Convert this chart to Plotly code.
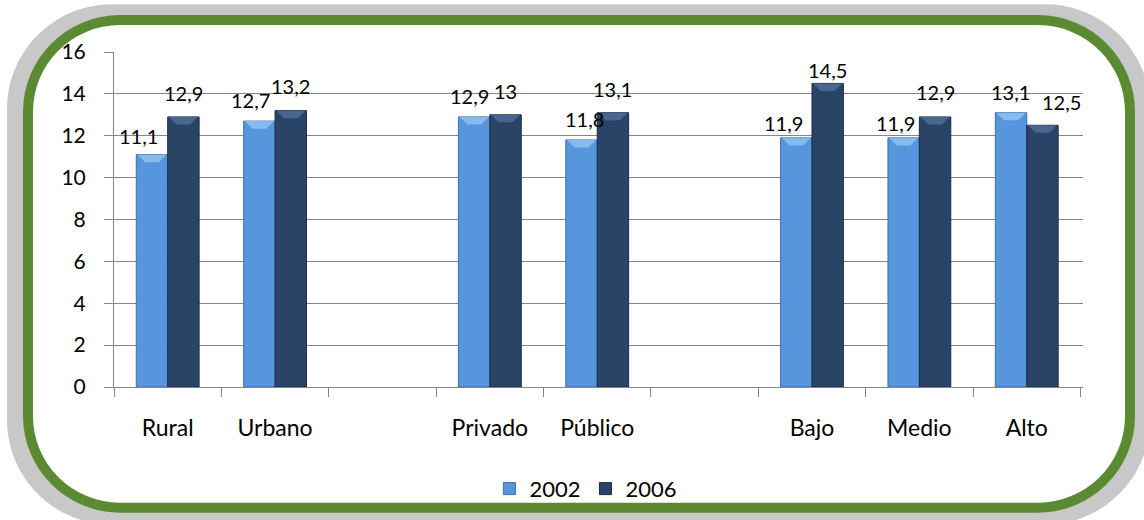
import plotly.graph_objects as go

# Category slots (the two blank slots separate the three groups)
categories = ["Rural", "Urbano", "gap1", "Privado", "Público", "gap2", "Bajo", "Medio", "Alto"]
tick_labels = ["Rural", "Urbano", "", "Privado", "Público", "", "Bajo", "Medio", "Alto"]
values_2002 = [11.1, 12.7, None, 12.9, 11.8, None, 11.9, 11.9, 13.1]
values_2006 = [12.9, 13.2, None, 13.0, 13.1, None, 14.5, 12.9, 12.5]
label_2002 = ["11,1", "12,7", "", "12,9", "11,8", "", "11,9", "11,9", "13,1"]
label_2006 = ["12,9", "13,2", "", "13", "13,1", "", "14,5", "12,9", "12,5"]

# Label placement tweaks (pixels) relative to each bar's top centre
dx_2002 = [-13, -9, 0, -5, 3, 0, -13, -8, -1]
dy_2002 = [19, 21, 0, 21, 21, 0, 15, 15, 21]
dx_2006 = [0, 0, 0, 0, 0, 0, 0, 0, 19]
dy_2006 = [24, 25, 0, 24, 24, 0, 13, 25, 23]

W, H = 1144, 520
L, R, T, B = 114, 1083, 52, 388
BAR_HALF = 15.75
BARGAP = 0.415
BAR_W = (1 - BARGAP) / 2          # bar width in category units
BEVEL_H = 0.36                    # bevel depth in y units

FONT = "Lato"
C2002 = "#5795dc"
C2006 = "#2a4468"
BEVEL_2002 = "#8ec2f2"
BEVEL_2006 = "#4d6d96"


def px_to_paper(x, y):
    return (x - L) / (R - L), (B - y) / (B - T)


def rounded_rect(x0, y0, x1, y1, r):
    k = 0.5523 * r

    def P(x, y):
        px, py = px_to_paper(x, y)
        return f"{px:.5f},{py:.5f}"

    d = f"M {P(x0 + r, y0)} L {P(x1 - r, y0)} "
    d += f"C {P(x1 - r + k, y0)} {P(x1, y0 + r - k)} {P(x1, y0 + r)} "
    d += f"L {P(x1, y1 - r)} "
    d += f"C {P(x1, y1 - r + k)} {P(x1 - r + k, y1)} {P(x1 - r, y1)} "
    d += f"L {P(x0 + r, y1)} "
    d += f"C {P(x0 + r - k, y1)} {P(x0, y1 - r + k)} {P(x0, y1 - r)} "
    d += f"L {P(x0, y0 + r)} "
    d += f"C {P(x0, y0 + r - k)} {P(x0 + r - k, y0)} {P(x0 + r, y0)} Z"
    return d


def bevel_path(i, side, v):
    # light trapezoid on top of a bar, in category-index / value coordinates
    left = i + (0 if side > 0 else -BAR_W)
    right = left + BAR_W
    inset = BAR_W * 0.28
    return (f"M {left + 0.01:.4f},{v:.3f} L {right - 0.01:.4f},{v:.3f} "
            f"L {right - inset:.4f},{v - BEVEL_H:.3f} L {left + inset:.4f},{v - BEVEL_H:.3f} Z")


fig = go.Figure()
fig.add_trace(go.Bar(
    name="2002", x=categories, y=values_2002,
    marker=dict(color=C2002, line=dict(color="#3d70aa", width=1)),
))
fig.add_trace(go.Bar(
    name="2006", x=categories, y=values_2006,
    marker=dict(color=C2006, line=dict(color="#1b2d46", width=1)),
))

annotations = []
for cat, v, t, dx, dy in zip(categories, values_2002, label_2002, dx_2002, dy_2002):
    if v is None:
        continue
    annotations.append(dict(x=cat, y=v, text=t, showarrow=False, xref="x", yref="y",
                            xshift=-BAR_HALF + dx, yshift=dy, yanchor="middle",
                            font=dict(family=FONT, size=20, color="#000")))
for cat, v, t, dx, dy in zip(categories, values_2006, label_2006, dx_2006, dy_2006):
    if v is None:
        continue
    annotations.append(dict(x=cat, y=v, text=t, showarrow=False, xref="x", yref="y",
                            xshift=BAR_HALF + dx, yshift=dy, yanchor="middle",
                            font=dict(family=FONT, size=20, color="#000")))

shapes = [
    # grey outer frame
    dict(type="path", xref="paper", yref="paper", layer="below",
         path=rounded_rect(7, 4, 1150, 526, 105),
         fillcolor="#c8c8c8", line=dict(width=0)),
    # white card with green border
    dict(type="path", xref="paper", yref="paper", layer="below",
         path=rounded_rect(28, 20, 1130, 509, 92),
         fillcolor="#ffffff", line=dict(color="#5b8a33", width=10)),
]

# bevel highlights on the bar tops
for i, (v1, v2) in enumerate(zip(values_2002, values_2006)):
    if v1 is not None:
        shapes.append(dict(type="path", xref="x", yref="y", layer="above",
                           path=bevel_path(i, -1, v1), fillcolor=BEVEL_2002,
                           line=dict(width=0), opacity=0.85))
    if v2 is not None:
        shapes.append(dict(type="path", xref="x", yref="y", layer="above",
                           path=bevel_path(i, 1, v2), fillcolor=BEVEL_2006,
                           line=dict(width=0), opacity=0.85))

fig.update_layout(
    width=W, height=H,
    margin=dict(l=L, r=W - R, t=T, b=H - B),
    paper_bgcolor="#ffffff", plot_bgcolor="rgba(0,0,0,0)",
    barmode="group", bargap=BARGAP, bargroupgap=0,
    font=dict(family=FONT, size=20, color="#000"),
    showlegend=True,
    legend=dict(orientation="h", x=0.487, xanchor="center", y=-0.30, yanchor="middle",
                font=dict(family=FONT, size=22), bgcolor="rgba(0,0,0,0)",
                itemwidth=30, tracegroupgap=0),
    annotations=annotations,
    shapes=shapes,
)
fig.update_xaxes(
    type="category", categoryorder="array", categoryarray=categories,
    tickmode="array", tickvals=categories, ticktext=tick_labels,
    tickson="boundaries", ticks="outside", ticklen=9, tickcolor="#868686",
    showline=True, linecolor="#868686", linewidth=1,
    showgrid=False, ticklabelstandoff=20,
    tickfont=dict(family=FONT, size=23, color="#000"),
)
fig.update_yaxes(
    range=[0, 16], dtick=2, tick0=0,
    ticks="outside", ticklen=9, tickcolor="#868686",
    showline=True, linecolor="#868686", linewidth=1,
    showgrid=True, gridcolor="#868686", gridwidth=1,
    zeroline=False, ticklabelstandoff=14,
    tickfont=dict(family=FONT, size=21, color="#000"),
)

fig.write_html("out.html")
